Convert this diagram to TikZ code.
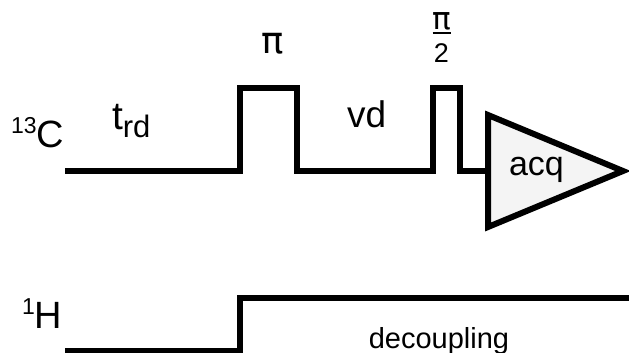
\documentclass[tikz,border=0pt]{standalone}
\usepackage{fontspec}
\setmainfont{Liberation Sans}
\newfontfamily\pifont{DejaVu Sans}
\definecolor{acqfill}{HTML}{F4F4F4}
\tikzset{
  seq/.style={line width=6pt, line join=miter, line cap=butt},
  lbl/.style={inner sep=0pt, outer sep=0pt},
}
\newcommand{\fs}[1]{\fontsize{#1}{#1}\selectfont}
\begin{document}
\begin{tikzpicture}[x=1pt,y=-1pt]
\useasboundingbox (0,0) rectangle (629,353);
% 13C channel
\coordinate (c0) at (65,171);
\coordinate (p1a) at (240,171);
\coordinate (p1b) at (240,88);
\coordinate (p1c) at (297,88);
\coordinate (p1d) at (297,171);
\coordinate (p2a) at (433,171);
\coordinate (p2b) at (433,88);
\coordinate (p2c) at (460,88);
\coordinate (p2d) at (460,171);
\coordinate (acqin) at (488,171);
\draw[seq] (c0) -- (p1a) -- (p1b) -- (p1c) -- (p1d) -- (p2a) -- (p2b) -- (p2c) -- (p2d) -- (acqin);
% acquisition triangle
\coordinate (t1) at (488,115);
\coordinate (t2) at (623,171);
\coordinate (t3) at (488,227);
\draw[seq, fill=acqfill] (t1) -- (t2) -- (t3) -- cycle;
\node[lbl, anchor=base west] (acq) at (509,175) {\fs{34}acq};
% 1H channel
\coordinate (h0) at (65,351);
\coordinate (h1) at (240,351);
\coordinate (h2) at (240,298);
\coordinate (h3) at (632,298);
\draw[seq] (h0) -- (h1) -- (h2) -- (h3);
% labels
\node[lbl, anchor=base west] (Clab) at (11,147) {\raisebox{14pt}{\fs{23}13}\fs{38}C};
\node[lbl, anchor=base west] (Hlab) at (22,328) {\raisebox{14pt}{\fs{23}1}\fs{38}H};
\node[lbl, anchor=base west] (trd) at (112,129) {\fs{39}t\raisebox{-8pt}{\fs{31}rd}};
\node[lbl, anchor=base] (pi1) at (273,53) {\pifont\fs{37}π};
\node[lbl, anchor=base] (pi2) at (441.5,30) {\pifont\fs{31}π};
\draw[line width=2pt] (432.5,33.5) -- (450.5,33.5);
\node[lbl, anchor=base] (two) at (441.5,63) {\fs{27}2};
\node[lbl, anchor=base west] (vd) at (347,127) {\fs{37}vd};
\node[lbl, anchor=base] (dec) at (439,348) {\fs{29}decoupling};
\end{tikzpicture}
\end{document}
